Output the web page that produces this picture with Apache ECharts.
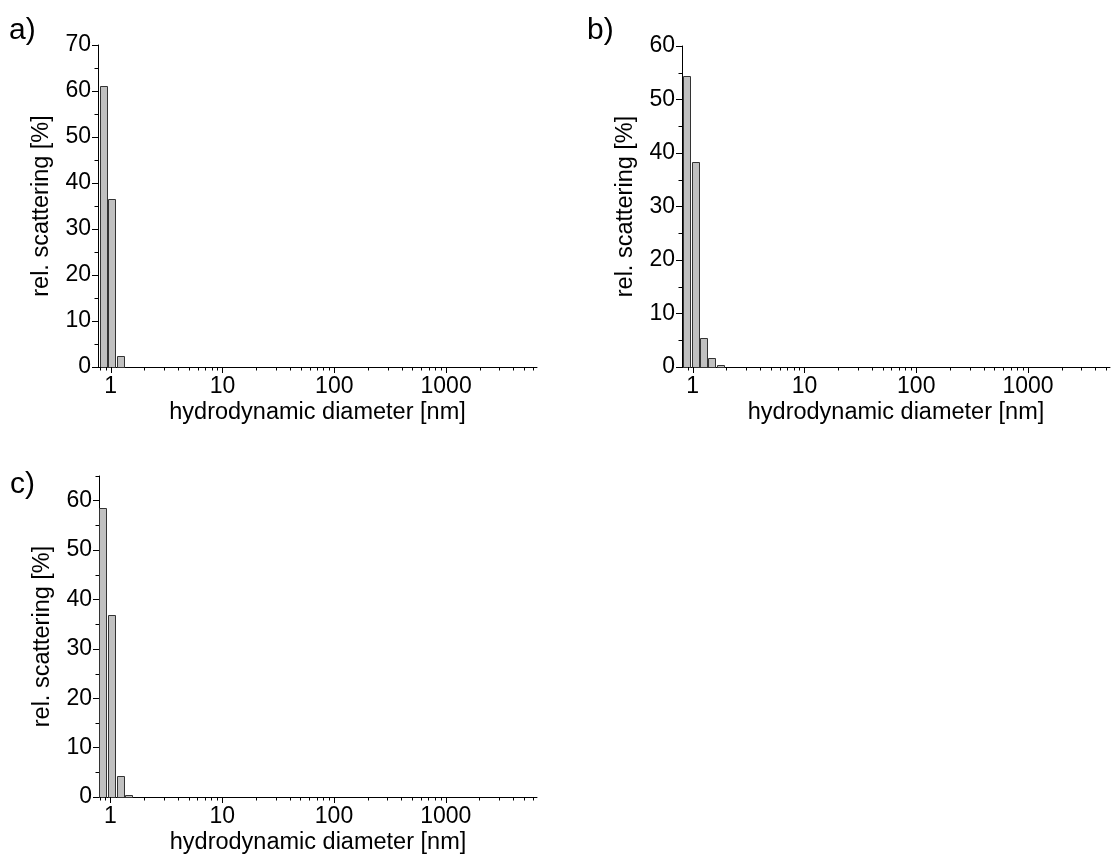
<!DOCTYPE html>
<html><head><meta charset="utf-8">
<script src="https://cdn.jsdelivr.net/npm/echarts@6/dist/echarts.min.js"></script>
<style>html,body{margin:0;padding:0;background:#fff}#c{width:1111px;height:861px}</style>
</head><body><div id="c"></div>
<script>
// ---- data ----
const diamA = [0.86, 1.02, 1.23];
const scatA = [61.1, 36.5, 2.3];
const diamB = [0.89, 1.06, 1.25, 1.49, 1.78];
const scatB = [54.4, 38.3, 5.5, 1.6, 0.4];
const diamC = [0.86, 1.02, 1.23, 1.45];
const scatC = [58.5, 36.8, 4.25, 0.4];
const xMajorTicks = [1, 10, 100, 1000];
const xMinorTicksAC = [0.8, 0.9, 2, 3, 4, 5, 6, 7, 8, 9, 20, 30, 40, 50, 60, 70, 80, 90, 200, 300, 400, 500, 600, 700, 800, 900, 2000, 3000, 4000, 5000, 6000];
const xMinorTicksB = [0.9, 2, 3, 4, 5, 6, 7, 8, 9, 20, 30, 40, 50, 60, 70, 80, 90, 200, 300, 400, 500, 600, 700, 800, 900, 2000, 3000, 4000, 5000];
const yMajorA = [0, 10, 20, 30, 40, 50, 60, 70];
const yMajorB = [0, 10, 20, 30, 40, 50, 60];
const yMajorC = [0, 10, 20, 30, 40, 50, 60];
const yMinorA = [5, 15, 25, 35, 45, 55, 65];
const yMinorB = [5, 15, 25, 35, 45, 55];
const yMinorC = [5, 15, 25, 35, 45, 55, 65];
const panelLabels = ['a)', 'b)', 'c)'];
const xTitle = 'hydrodynamic diameter [nm]';
const yTitle = 'rel. scattering [%]';

// ---- layout / style ----
const FONT = "'Liberation Sans', Arial, sans-serif";
const HALF = Math.pow(10, 0.033);
const panels = [
  {grid: {left: 98, top: 45, width: 439, height: 322}, xmin: 0.77, xmax: 6500, ymax: 70,
   diam: diamA, scat: scatA, xMinor: xMinorTicksAC, yMajor: yMajorA, yMinor: yMinorA, label: {left: 9, top: 16}},
  {grid: {left: 682, top: 46, width: 428, height: 321}, xmin: 0.802, xmax: 5410, ymax: 60,
   diam: diamB, scat: scatB, xMinor: xMinorTicksB, yMajor: yMajorB, yMinor: yMinorB, label: {left: 587, top: 16}},
  {grid: {left: 99, top: 476, width: 438, height: 321}, xmin: 0.79, xmax: 6546, ymax: 65,
   diam: diamC, scat: scatC, xMinor: xMinorTicksAC, yMajor: yMajorC, yMinor: yMinorC, label: {left: 10, top: 470}}
];

function barItem(params, api) {
  const d = api.value(0), v = api.value(1);
  const p0 = api.coord([d / HALF, v]);
  const p1 = api.coord([d * HALF, 0]);
  return {type: 'rect',
    shape: {x: Math.round(p0[0]) + 0.5, y: Math.round(p0[1]) + 0.5, width: Math.round(p1[0] - p0[0]), height: Math.round(p1[1] - p0[1])},
    style: {fill: '#c0c0c0', stroke: '#333', lineWidth: 1}};
}
function decorItem(params, api) {
  const k = api.value(0);
  const p = api.coord([api.value(1), api.value(2)]);
  const x = Math.round(p[0]) + 0.5, y = Math.round(p[1]);
  let shape;
  if (k === 0) shape = {x1: x, y1: y, x2: x, y2: y + 6};
  else if (k === 1) shape = {x1: x, y1: y, x2: x, y2: y + 3.5};
  else shape = {x1: Math.round(p[0]) - 3.5, y1: Math.round(p[1]) + 0.5, x2: Math.round(p[0]), y2: Math.round(p[1]) + 0.5};
  return {type: 'line', shape: shape, style: {stroke: '#000', lineWidth: 1}};
}

const grids = [], xAxes = [], yAxes = [], series = [], graphics = [];
panels.forEach((p, i) => {
  grids.push(Object.assign({containLabel: false}, p.grid));
  xAxes.push({
    type: 'log', logBase: 10, gridIndex: i, min: p.xmin, max: p.xmax,
    axisLine: {show: true, lineStyle: {color: '#000', width: 1}},
    axisTick: {show: false}, splitLine: {show: false}, minorTick: {show: false},
    axisLabel: {color: '#000', fontSize: 23, fontFamily: FONT, margin: 8, showMinLabel: false, showMaxLabel: false,
      formatter: v => String(Math.round(v))},
    name: xTitle, nameLocation: 'middle', nameGap: 34,
    nameTextStyle: {color: '#000', fontSize: 23.5, fontFamily: FONT}
  });
  yAxes.push({
    type: 'value', gridIndex: i, min: 0, max: p.ymax, interval: 10,
    axisLine: {show: true, lineStyle: {color: '#000', width: 1}},
    axisTick: {show: true, length: 6, lineStyle: {color: '#000'}, customValues: p.yMajor},
    splitLine: {show: false},
    axisLabel: {color: '#000', fontSize: 23, fontFamily: FONT, margin: 7, customValues: p.yMajor},
    name: yTitle, nameLocation: 'middle', nameGap: 44,
    nameTextStyle: {color: '#000', fontSize: 23.5, fontFamily: FONT}
  });
  series.push({
    type: 'custom', xAxisIndex: i, yAxisIndex: i, renderItem: barItem,
    encode: {x: 0, y: 1},
    data: p.diam.map((d, j) => [d, p.scat[j]]), z: 3
  });
  const decor = [];
  xMajorTicks.forEach(v => decor.push([0, v, 0]));
  p.xMinor.forEach(v => decor.push([1, v, 0]));
  p.yMinor.forEach(v => decor.push([2, p.xmin, v]));
  series.push({
    type: 'custom', xAxisIndex: i, yAxisIndex: i, renderItem: decorItem,
    encode: {x: 1, y: 2}, clip: false, silent: true, data: decor, z: 4
  });
  graphics.push({type: 'text', left: p.label.left, top: p.label.top,
    style: {text: panelLabels[i], fontSize: 30, fontFamily: FONT, fill: '#000'}});
});

const chart = echarts.init(document.getElementById('c'), null, {renderer: 'canvas'});
chart.setOption({
  backgroundColor: '#fff', animation: false,
  grid: grids, xAxis: xAxes, yAxis: yAxes, series: series, graphic: graphics
});
</script></body></html>
